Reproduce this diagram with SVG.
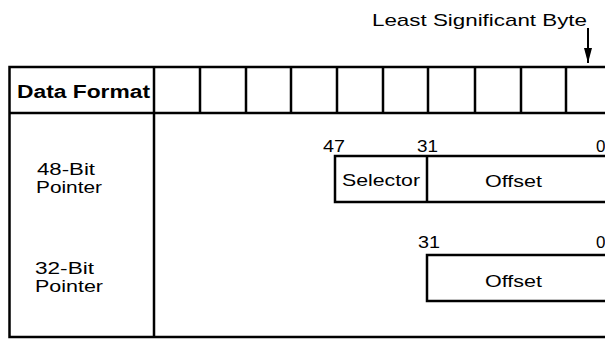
<svg xmlns="http://www.w3.org/2000/svg" width="605" height="339" viewBox="0 0 605 339">
<style>
.ln{fill:none;stroke:#000;stroke-width:2.5}
.t{font-family:"Liberation Sans",Arial,sans-serif;font-size:17px;fill:#000}
.b{font-weight:bold;font-size:18px}
.lb{font-size:16px}
</style>
<defs>
<marker id="ah" markerWidth="15" markerHeight="8" refX="15" refY="4" orient="auto" markerUnits="userSpaceOnUse" viewBox="0 0 15 8">
<path d="M0,0 L15,4 L0,8 Z" fill="#000"/>
</marker>
</defs>
<rect width="605" height="339" fill="#fff"/>
<g id="table">
<path class="ln" d="M612,67 H9.5 V337 H612 M9.5,113 H612 M154,67 V337"/>
<path class="ln" d="M200,67 V113 M246,67 V113 M291,67 V113 M337,67 V113 M383,67 V113 M428,67 V113 M475,67 V113 M521,67 V113 M566,67 V113"/>
<text class="t b" x="17" y="98" textLength="133" lengthAdjust="spacingAndGlyphs">Data Format</text>
</g>
<g id="lsb-label">
<text class="t" x="372" y="26" font-size="16.5" textLength="215" lengthAdjust="spacingAndGlyphs">Least Significant Byte</text>
</g>
<g id="row-48">
<text class="t lb" x="37" y="175" textLength="58" lengthAdjust="spacingAndGlyphs">48-Bit</text>
<text class="t lb" x="36" y="193" textLength="66" lengthAdjust="spacingAndGlyphs">Pointer</text>
</g>
<g id="pointer-48">
<text class="t" x="323" y="152" textLength="22" lengthAdjust="spacingAndGlyphs">47</text>
<text class="t" x="417" y="152" textLength="21" lengthAdjust="spacingAndGlyphs">31</text>
<text class="t" x="596" y="152">0</text>
<path class="ln" d="M612,156 H335 V202 H612 M427,156 V202"/>
<text class="t" x="342" y="186" font-size="18" textLength="78" lengthAdjust="spacingAndGlyphs">Selector</text>
<text class="t" x="485" y="187" font-size="18" textLength="57" lengthAdjust="spacingAndGlyphs">Offset</text>
</g>
<g id="row-32">
<text class="t lb" x="35" y="274" textLength="59" lengthAdjust="spacingAndGlyphs">32-Bit</text>
<text class="t lb" x="35" y="292" textLength="68" lengthAdjust="spacingAndGlyphs">Pointer</text>
</g>
<g id="pointer-32">
<text class="t" x="418" y="248" textLength="22" lengthAdjust="spacingAndGlyphs">31</text>
<text class="t" x="596" y="248">0</text>
<path class="ln" d="M612,255 H427 V301 H612"/>
<text class="t" x="485" y="287" font-size="18" textLength="57" lengthAdjust="spacingAndGlyphs">Offset</text>
</g>
<g id="connectors">
<line x1="588" y1="28" x2="588" y2="63" stroke="#000" stroke-width="2" marker-end="url(#ah)"/>
</g>
</svg>
